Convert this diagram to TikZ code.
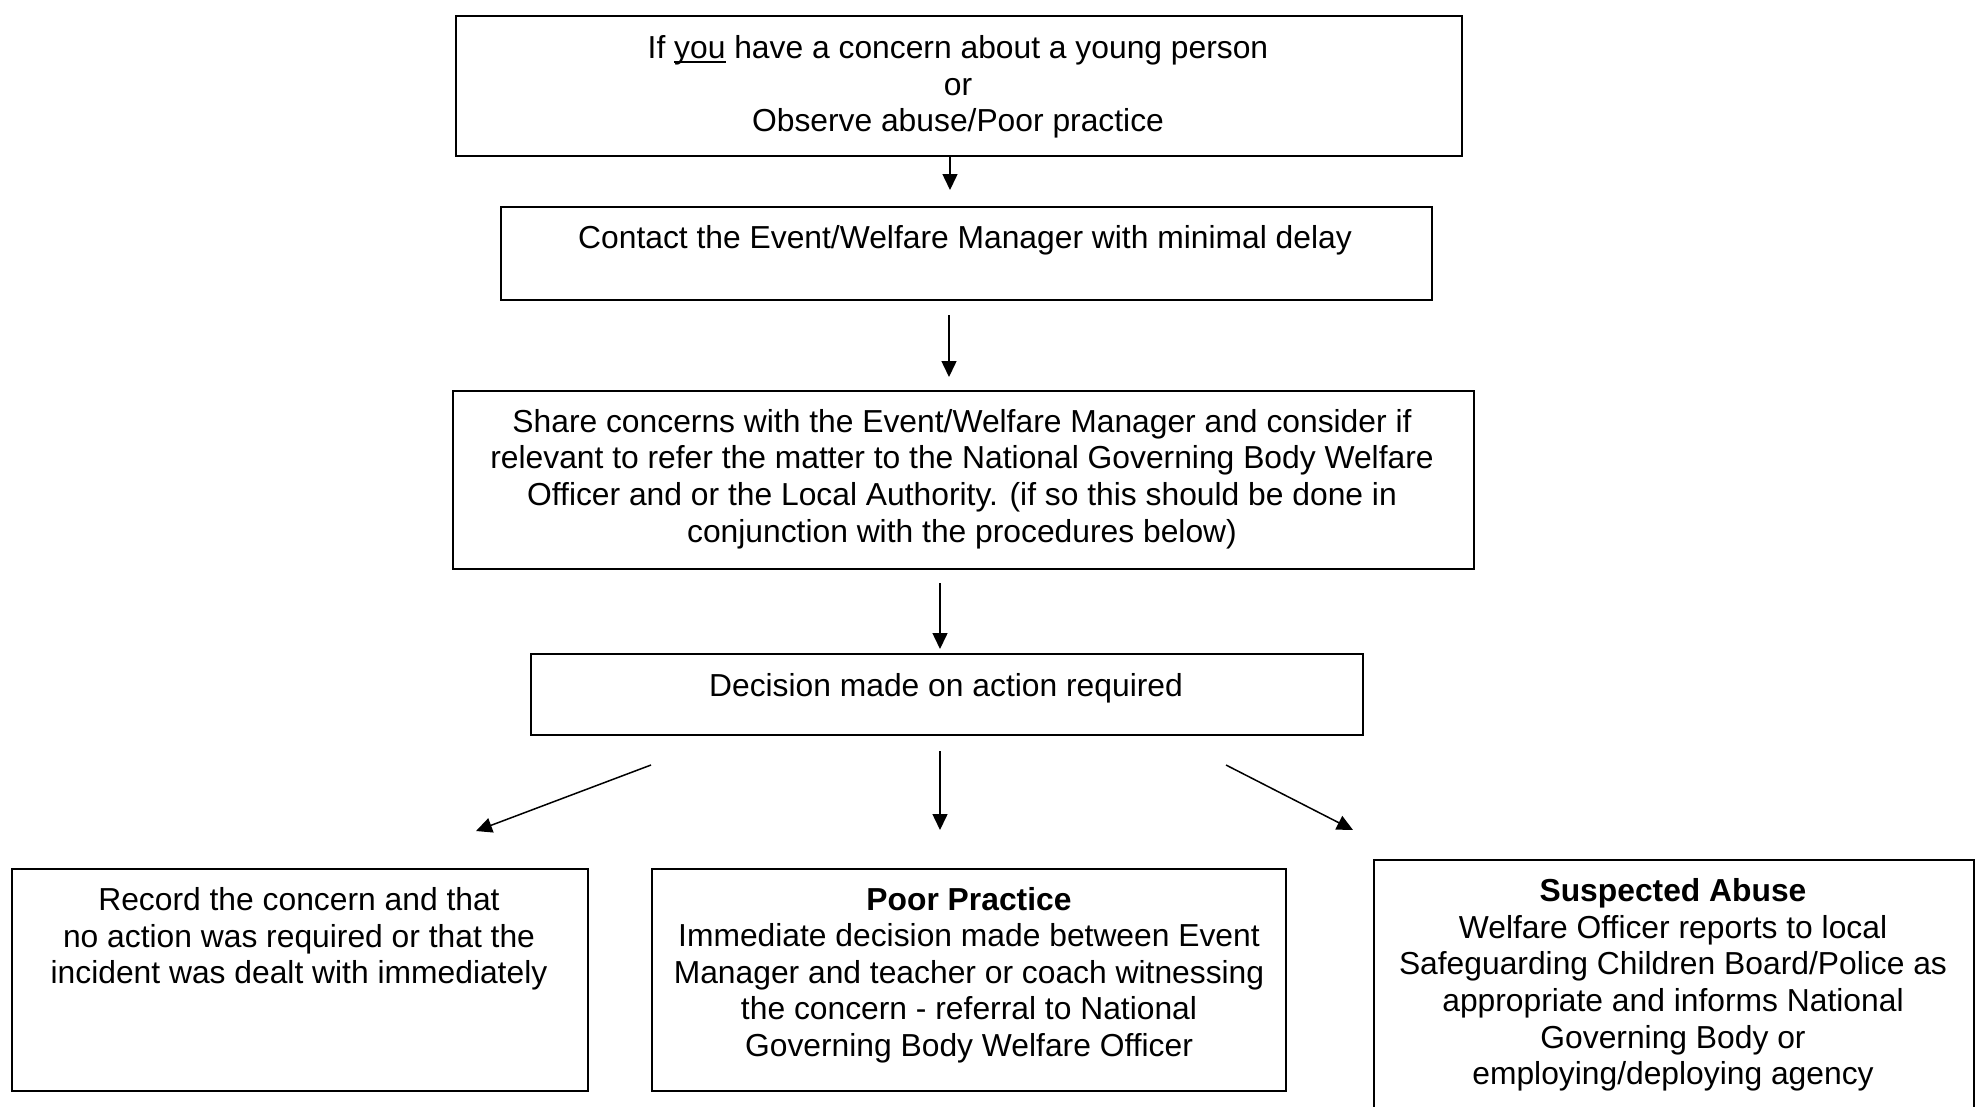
\documentclass[tikz,border=0pt]{standalone}
\usepackage{fontspec}
\setmainfont{Liberation Sans}
\usetikzlibrary{arrows.meta}
\newcommand{\myul}[1]{\setbox0\hbox{#1}\rlap{\raisebox{-4.5pt}{\rule{\wd0}{2pt}}}\box0\relax}
\begin{document}
\begin{tikzpicture}[x=1pt,y=-1pt,
  box/.style={draw, line width=1.6pt, inner sep=0pt, anchor=north west},
  txt/.style={inner sep=0pt, align=center, font=\fontsize{31.8}{36.6}\selectfont},
  arr/.style={line width=1.5pt, -{Triangle[length=16pt,width=15pt]}}]
\useasboundingbox[fill=white] (0,0) rectangle (1978,1106);
% boxes
\node[box, minimum width=1006pt, minimum height=140pt] (b1) at (455,15) {};
\node[box, minimum width=931pt, minimum height=93pt] (b2) at (500,206) {};
\node[box, minimum width=1021pt, minimum height=178pt] (b3) at (452,390) {};
\node[box, minimum width=832pt, minimum height=81pt] (b4) at (530,653) {};
\node[box, minimum width=576pt, minimum height=222pt] (b5) at (11,868) {};
\node[box, minimum width=634pt, minimum height=222pt] (b6) at (651,868) {};
\node[box, minimum width=600pt, minimum height=270pt] (b7) at (1373,859) {};
% texts
\node[txt] (t1) at (958,87) {If \myul{you} have a concern about a young person\\or\\Observe abuse/Poor practice};
\node[txt] (t2) at (965,240) {Contact the Event/Welfare Manager with minimal delay};
\node[txt] (t3) at (962,479) {Share concerns with the Event/Welfare Manager and consider if\\relevant to refer the matter to the National Governing Body Welfare\\Officer and or the Local Authority. (if so this should be done in\\conjunction with the procedures below)};
\node[txt] (t4) at (946,688) {Decision made on action required};
\node[txt] (t5) at (299,939) {Record the concern and that\\no action was required or that the\\incident was dealt with immediately};
\node[txt] (t6) at (969,975) {\textbf{Poor Practice}\\Immediate decision made between Event\\Manager and teacher or coach witnessing\\the concern - referral to National\\Governing Body Welfare Officer};
\node[txt] (t7) at (1673,985) {\textbf{Suspected Abuse}\\Welfare Officer reports to local\\Safeguarding Children Board/Police as\\appropriate and informs National\\Governing Body or\\employing/deploying agency};
% arrows
\coordinate (a1s) at (950,155); \coordinate (a1e) at (950,190);
\coordinate (a2s) at (949,315); \coordinate (a2e) at (949,377);
\coordinate (a3s) at (940,583); \coordinate (a3e) at (940,649);
\coordinate (a4s) at (651,765); \coordinate (a4e) at (476,831);
\coordinate (a5s) at (940,751); \coordinate (a5e) at (940,830);
\coordinate (a6s) at (1226,765); \coordinate (a6e) at (1353,830);
\draw[arr] (a1s) -- (a1e);
\draw[arr] (a2s) -- (a2e);
\draw[arr] (a3s) -- (a3e);
\draw[arr] (a4s) -- (a4e);
\draw[arr] (a5s) -- (a5e);
\draw[arr] (a6s) -- (a6e);
\end{tikzpicture}
\end{document}
